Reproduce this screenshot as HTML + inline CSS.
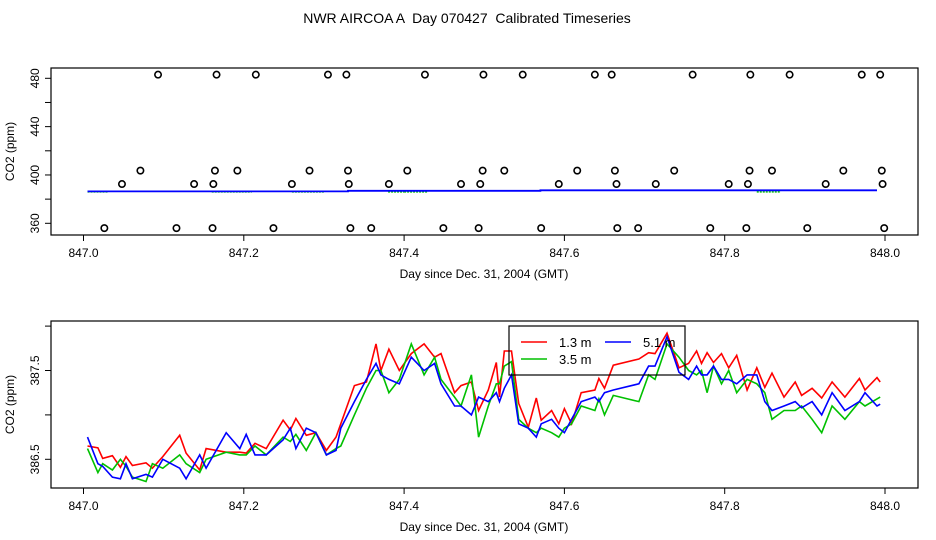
<!DOCTYPE html>
<html><head><meta charset="utf-8">
<style>
html,body{margin:0;padding:0;background:#fff;}
svg{display:block;font-family:"Liberation Sans",Arial,sans-serif;}
</style></head>
<body>
<svg id="chart" width="936" height="540" viewBox="0 0 936 540" xmlns="http://www.w3.org/2000/svg">
<rect x="0" y="0" width="936" height="540" fill="#fff"/>
<text x="467" y="23" font-size="14" text-anchor="middle" style="white-space:pre">NWR AIRCOA A  Day 070427  Calibrated Timeseries</text>
<g id="topPanel"></g>
<g id="botPanel"></g>
</svg>
<script>
// ---- Top panel data ----
const topCircleDays = [847.093,847.166,847.215,847.305,847.328,847.426,847.499,847.548,847.638,847.659,847.760,847.832,847.881,847.971,847.994,
 847.071,847.164,847.192,847.282,847.330,847.404,847.498,847.525,847.616,847.663,847.737,847.831,847.859,847.948,847.996,
 847.048,847.138,847.162,847.260,847.331,847.381,847.471,847.495,847.593,847.665,847.714,847.805,847.829,847.926,847.997,
 847.026,847.116,847.161,847.237,847.333,847.359,847.449,847.493,847.571,847.666,847.692,847.782,847.827,847.903,847.999];
const topCircleVals = [483,483,483,483,483,483,483,483,483,483,483,483,483,483,483,
 403.6,403.6,403.6,403.6,403.6,403.6,403.6,403.6,403.6,403.6,403.6,403.6,403.6,403.6,403.6,
 392.5,392.5,392.5,392.5,392.5,392.5,392.5,392.5,392.5,392.5,392.5,392.5,392.5,392.5,392.5,
 356,356,356,356,356,356,356,356,356,356,356,356,356,356,356];
const topLineDays = [847.005,847.33,847.33,847.57,847.57,847.99];
const topLineVals = [386.4,386.4,386.9,386.9,387.3,387.3];
const topGreenStarts = [847.005,847.16,847.26,847.38,847.4,847.84];
const topGreenEnds = [847.03,847.21,847.30,847.4,847.43,847.87];
const topGreenVal = [386,386,386,386,386,386];
const topYTicks = [360,380,400,420,440,460,480];
const topYLabels = ["360","","400","","440","","480"];
const xTicks = [847.0,847.2,847.4,847.6,847.8,848.0];
const xTickLabels = ["847.0","847.2","847.4","847.6","847.8","848.0"];

// ---- Bottom panel data ----
const days = [847.005,847.018,847.024,847.036,847.046,847.053,847.061,847.078,847.086,847.099,847.12,847.128,847.145,847.153,847.178,847.195,847.203,847.214,847.228,847.249,847.258,847.265,847.278,847.29,847.303,847.315,847.321,847.338,847.353,847.365,847.371,847.381,847.394,847.409,847.425,847.438,847.446,847.463,847.471,847.484,847.493,847.505,847.515,847.519,847.525,847.534,847.543,847.555,847.565,847.571,847.584,847.593,847.6,847.609,847.621,847.638,847.643,847.65,847.661,847.693,847.705,847.713,847.728,847.743,847.755,847.765,847.771,847.778,847.786,847.796,847.805,847.815,847.828,847.84,847.85,847.859,847.874,847.888,847.896,847.909,847.921,847.934,847.95,847.968,847.975,847.99,847.994];
const red13 = [386.65,386.63,386.51,386.54,386.41,386.53,386.43,386.46,386.40,386.53,386.77,386.57,386.38,386.62,386.58,386.58,386.57,386.68,386.62,386.94,386.83,386.96,386.77,386.80,386.60,386.75,386.90,387.33,387.37,387.80,387.50,387.74,387.50,387.69,387.80,387.65,387.69,387.25,387.33,387.37,387.05,387.28,387.59,387.20,387.72,387.72,387.13,386.86,387.19,386.94,387.05,386.90,387.07,386.90,387.25,387.28,387.41,387.30,387.56,387.63,387.70,387.69,387.92,387.53,387.58,387.72,387.58,387.70,387.59,387.69,387.53,387.67,387.28,387.53,387.31,387.47,387.20,387.37,387.22,387.30,387.19,387.37,387.20,387.41,387.28,387.42,387.37];
const green35 = [386.62,386.35,386.45,386.38,386.50,386.42,386.30,386.25,386.45,386.40,386.55,386.45,386.35,386.50,386.58,386.55,386.55,386.65,386.55,386.75,386.70,386.78,386.60,386.80,386.55,386.62,386.65,387.00,387.30,387.50,387.50,387.25,387.40,387.80,387.45,387.65,387.40,387.20,387.10,387.45,386.75,387.10,387.35,387.35,387.55,387.60,386.95,386.85,386.80,386.85,386.80,386.75,386.85,386.90,387.10,387.05,387.18,387.00,387.22,387.15,387.45,387.40,387.80,387.65,387.50,387.45,387.50,387.25,387.55,387.35,387.50,387.25,387.40,387.35,387.25,386.95,387.05,387.05,387.10,386.95,386.80,387.10,386.95,387.15,387.10,387.18,387.20];
const blue51 = [386.75,386.45,386.42,386.30,386.28,386.45,386.28,386.33,386.30,386.50,386.40,386.28,386.55,386.40,386.80,386.62,386.78,386.55,386.55,386.72,386.85,386.62,386.85,386.80,386.55,386.60,386.85,387.15,387.40,387.58,387.45,387.40,387.35,387.65,387.50,387.58,387.35,387.10,387.10,387.00,387.20,387.15,387.25,387.15,387.30,387.45,386.90,386.85,386.75,386.90,386.95,386.85,386.80,386.95,387.15,387.20,387.15,387.25,387.28,387.35,387.55,387.55,387.88,387.48,387.40,387.55,387.45,387.45,387.55,387.40,387.40,387.35,387.45,387.45,387.15,387.05,387.10,387.15,387.08,387.15,387.00,387.25,387.05,387.15,387.25,387.10,387.12];
const botYTicks = [386.5,387.0,387.5,388.0];
const botYLabels = ["386.5","","387.5",""];
const legendLabels = ["1.3 m","3.5 m","5.1 m"];

const NS = "http://www.w3.org/2000/svg";
function mk(parent, tag, attrs){const e=document.createElementNS(NS,tag);for(const k in attrs)e.setAttribute(k,attrs[k]);parent.appendChild(e);return e;}
const xs = d => 83.5 + (d-847)*801.5;
const yTop = v => 223.3 - (v-360)*(145/120);
const yBot = v => 459.3 - (v-386.5)*88.8;

function drawAxes(g, box, yScale, yTicks, yLabels, yName){
  const frame = mk(g,'rect',{x:box.l,y:box.t,width:box.r-box.l,height:box.b-box.t,fill:'none',stroke:'#000','stroke-width':1.2});
  
  
  xTicks.forEach((t,i)=>{
    const x=xs(t);
    const tk=mk(g,'line',{x1:x,x2:x,y1:box.b,y2:box.b+6,stroke:'#000'});
    
    
    const tl=mk(g,'text',{x:x,y:box.b+22,'font-size':12,'text-anchor':'middle'});
    tl.textContent=xTickLabels[i];
    
    
  });
  const xt=mk(g,'text',{x:484,y:box.b+43,'font-size':12,'text-anchor':'middle'});
  xt.textContent='Day since Dec. 31, 2004 (GMT)';
  
  
  yTicks.forEach((t,i)=>{
    const y=yScale(t);
    const tk=mk(g,'line',{x1:box.l-6,x2:box.l,y1:y,y2:y,stroke:'#000'});
    
    
    if(yLabels[i]){
      const tl=mk(g,'text',{x:0,y:0,'font-size':12,'text-anchor':'middle',transform:`translate(${box.l-12},${y}) rotate(-90)`});
      tl.textContent=yLabels[i];
      
      
    }
  });
  const yt=mk(g,'text',{x:0,y:0,'font-size':12,'text-anchor':'middle',transform:`translate(14,${(box.t+box.b)/2}) rotate(-90)`});
  yt.textContent=yName;
  
  
}
function poly(g, dArr, vArr, yScale, color, name, w){
  const pts=dArr.map((d,i)=>xs(d).toFixed(1)+','+yScale(vArr[i]).toFixed(1)).join(' ');
  const p=mk(g,'polyline',{points:pts,fill:'none',stroke:color,'stroke-width':w||1.6,'stroke-linejoin':'miter'});
  
  
  return p;
}

// Top panel
const topG = document.getElementById('topPanel');
drawAxes(topG,{l:51,r:918,t:68,b:235},yTop,topYTicks,topYLabels,'CO2 (ppm)');
topGreenStarts.forEach((s,i)=>{
  const l=mk(topG,'line',{x1:xs(s),x2:xs(topGreenEnds[i]),y1:yTop(topGreenVal[i]),y2:yTop(topGreenVal[i]),stroke:'#00c000','stroke-width':1.5,'stroke-dasharray':'2,1'});
  
  
});
poly(topG,topLineDays,topLineVals,yTop,'#0000ff','top-series-5-1m',1.8);
topCircleDays.forEach((d,i)=>{
  const c=mk(topG,'circle',{cx:xs(d),cy:yTop(topCircleVals[i]),r:3.2,fill:'none',stroke:'#000','stroke-width':1.6});
  
  
});

// Bottom panel
const botG = document.getElementById('botPanel');
drawAxes(botG,{l:51,r:918,t:321,b:488},yBot,botYTicks,botYLabels,'CO2 (ppm)');
poly(botG,days,red13,yBot,'#ff0000','series-1-3m');
poly(botG,days,green35,yBot,'#00c000','series-3-5m');
poly(botG,days,blue51,yBot,'#0000ff','series-5-1m');

// Legend
const lg = mk(botG,'g',{});


const lb=mk(lg,'rect',{x:509,y:326,width:176,height:49,fill:'none',stroke:'#000','stroke-width':1.2});


const legPos=[[521,342,'#ff0000'],[521,359,'#00c000'],[605,342,'#0000ff']];
legPos.forEach((p,i)=>{
  const ln=mk(lg,'line',{x1:p[0],x2:p[0]+26,y1:p[1],y2:p[1],stroke:p[2],'stroke-width':1.4});
  
  
  const t=mk(lg,'text',{x:p[0]+38,y:p[1]+5,'font-size':13});
  t.textContent=legendLabels[i];
  
  
});
</script>
</body></html>
